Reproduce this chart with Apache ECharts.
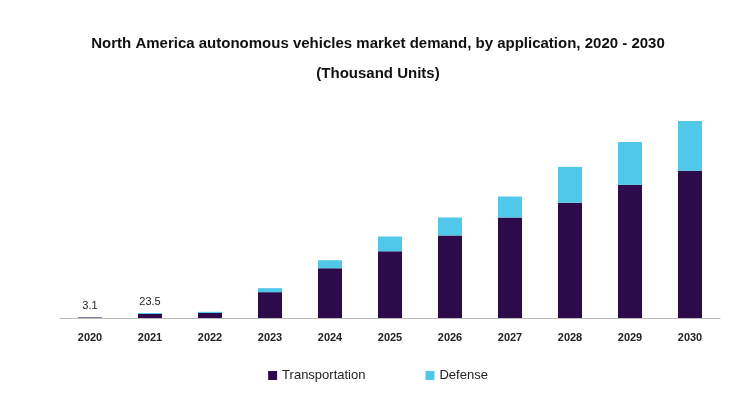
<!DOCTYPE html>
<html><head><meta charset="utf-8">
<script src="https://cdn.jsdelivr.net/npm/echarts@6/dist/echarts.min.js"></script>
<style>html,body{margin:0;background:#fff}#c{width:756px;height:413px}</style>
</head><body><div id="c"></div>
<script>
var years = ['2020','2021','2022','2023','2024','2025','2026','2027','2028','2029','2030'];
var transportation = [2.6, 19, 24, 122, 235, 315, 390, 475, 545, 630, 696];
var defense = [0.5, 4.5, 5, 19, 38, 70, 85, 99, 169, 202, 235];
var totalLabels = {0: '3.1', 1: '23.5'};

var chart = echarts.init(document.getElementById('c'));
chart.setOption({
    title: {
        text: 'North America autonomous vehicles market demand, by application, 2020 - 2030\n(Thousand Units)',
        left: 'center', top: 24,
        textStyle: { fontFamily: 'Liberation Sans', fontSize: 15, fontWeight: 'bold', color: '#111', lineHeight: 30 }
    },
    legend: {
        bottom: 26, left: 'center', itemWidth: 9, itemHeight: 9, itemGap: 60,
        icon: 'rect',
        textStyle: { fontFamily: 'Liberation Sans', fontSize: 13, color: '#222' },
        data: ['Transportation', 'Defense']
    },
    grid: { left: 60, right: 36, top: 100, bottom: 95 },
    xAxis: {
        type: 'category', data: years,
        axisLine: { lineStyle: { color: '#bbb' } },
        axisTick: { show: false },
        axisLabel: { fontFamily: 'Liberation Sans', fontSize: 11, fontWeight: 'bold', color: '#222', margin: 14 }
    },
    yAxis: { type: 'value', min: 0, max: 1030, show: false, splitLine: { show: false } },
    series: [
        { name: 'Transportation', type: 'bar', stack: 't', data: transportation, barWidth: 24,
          itemStyle: { color: '#2d0a4a' } },
        { name: 'Defense', type: 'bar', stack: 't', data: defense, barWidth: 24,
          itemStyle: { color: '#4fc8ea' },
          label: { show: true, position: 'top', distance: 6, fontFamily: 'Liberation Sans', fontSize: 11, color: '#222',
                   formatter: function (p) { return totalLabels[p.dataIndex] || ''; } } }
    ]
});
</script></body></html>
